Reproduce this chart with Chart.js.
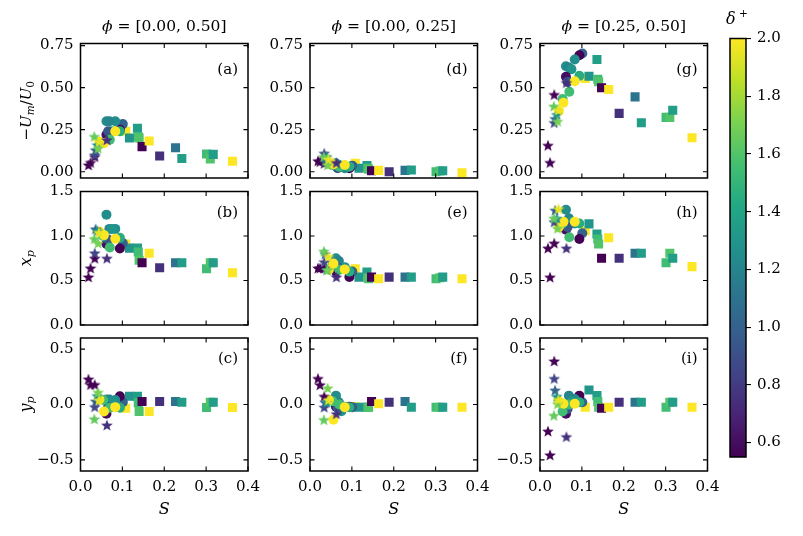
<!DOCTYPE html>
<html>
<head>
<meta charset="utf-8">
<script src="https://cdn.jsdelivr.net/npm/chart.js@4.4.0/dist/chart.umd.min.js"></script>
<style>
  body { margin: 0; background: #fff; }
  #wrap { position: relative; width: 803px; height: 536px; background: #fff; }
  #wrap canvas { position: absolute; left: 0; top: 0; }
</style>
</head>
<body>
<div id="wrap"></div>
<script>
// ---------- data ----------
const phiRanges = ['[0.00, 0.50]', '[0.00, 0.25]', '[0.25, 0.50]'];
const panelLetters = [['(a)', '(b)', '(c)'], ['(d)', '(e)', '(f)'], ['(g)', '(h)', '(i)']];

const sTicks = [0, 0.1, 0.2, 0.3, 0.4];
const sTickLabels = ['0.0', '0.1', '0.2', '0.3', '0.4'];
const umTicks = [0, 0.25, 0.5, 0.75];
const umTickLabels = ['0.00', '0.25', '0.50', '0.75'];
const xpTicks = [0, 0.5, 1.0, 1.5];
const xpTickLabels = ['0.0', '0.5', '1.0', '1.5'];
const ypTicks = [-0.5, 0, 0.5];
const ypTickLabels = ['\u22120.5', '0.0', '0.5'];
const deltaTicks = [0.6, 0.8, 1.0, 1.2, 1.4, 1.6, 1.8, 2.0];
const deltaTickLabels = ['0.6', '0.8', '1.0', '1.2', '1.4', '1.6', '1.8', '2.0'];
const deltaMin = 0.55, deltaMax = 2.0;

// stars (small S)
const starS     = [0.019, 0.024, 0.034, 0.034, 0.036, 0.040, 0.033, 0.042, 0.044, 0.063];
const starDelta = [0.55, 0.55, 0.55, 0.85, 1.0, 1.3, 1.65, 1.7, 1.95, 0.75];
// circles (medium S)
const circS     = [0.101, 0.094, 0.083, 0.062, 0.069, 0.075, 0.094, 0.062, 0.066, 0.070, 0.054, 0.056, 0.083, 0.045];
const circDelta = [1.0, 0.55, 1.25, 1.25, 1.2, 1.3, 1.45, 0.6, 0.95, 1.55, 1.55, 2.0, 2.0, 2.0];
// squares (large S)
const sqS     = [0.108, 0.117, 0.136, 0.138, 0.140, 0.147, 0.164, 0.189, 0.227, 0.242, 0.301, 0.310, 0.317, 0.363];
const sqDelta = [2.0, 1.3, 1.35, 1.55, 1.6, 0.55, 2.0, 0.75, 1.1, 1.35, 1.55, 1.6, 1.35, 2.0];

// -U_m/U_0, one list per phi range
const umStar = [
  [0.04, 0.055, 0.09, 0.10, 0.13, 0.16, 0.21, 0.14, 0.18, 0.19],
  [0.065, 0.06, 0.05, 0.11, 0.06, 0.09, 0.09, 0.04, 0.075, 0.054],
  [0.157, 0.055, 0.459, 0.292, 0.316, 0.34, 0.39, 0.30, 0.367, 0.53]
];
const umCirc = [
  [0.283, 0.25, 0.30, 0.30, 0.30, 0.24, 0.24, 0.22, 0.24, 0.19, 0.17, 0.17, 0.24, 0.178],
  [0.036, 0.02, 0.02, 0.05, 0.04, 0.03, 0.03, 0.035, 0.02, 0.03, 0.04, 0.044, 0.04, 0.05],
  [0.703, 0.693, 0.667, 0.627, 0.62, 0.61, 0.57, 0.564, 0.534, 0.475, 0.432, 0.41, 0.538, 0.36]
];
const umSq = [
  [0.24, 0.20, 0.258, 0.208, 0.20, 0.149, 0.182, 0.093, 0.143, 0.079, 0.105, 0.075, 0.103, 0.062],
  [0.05, 0.02, 0.036, 0.02, 0.015, 0.006, 0.008, 0.0, 0.008, 0.01, 0.0, 0.004, 0.006, -0.006],
  [0.555, 0.568, 0.667, 0.550, 0.535, 0.499, 0.489, 0.347, 0.445, 0.291, 0.323, 0.323, 0.366, 0.202]
];
// x_p
const xpStar = [
  [0.54, 0.64, 0.75, 0.81, 1.08, 1.06, 0.97, 0.92, 1.04, 0.75],
  [0.64, 0.64, 0.64, 0.71, 0.80, 0.62, 0.83, 0.62, 0.77, 0.54],
  [0.864, 0.538, 0.92, 1.16, 1.29, 1.20, 1.20, 1.087, 1.307, 0.864]
];
const xpCirc = [
  [0.92, 0.86, 1.08, 1.24, 1.08, 1.08, 0.98, 0.91, 0.96, 0.87, 1.0, 1.01, 0.97, 1.05],
  [0.60, 0.54, 0.65, 0.75, 0.72, 0.65, 0.60, 0.60, 0.65, 0.62, 0.68, 0.69, 0.625, 0.62],
  [1.03, 0.966, 1.14, 1.295, 1.20, 1.16, 1.14, 1.07, 1.10, 0.985, 1.14, 1.16, 1.16, 1.10]
];
const xpSq = [
  [0.909, 0.864, 0.864, 0.82, 0.727, 0.70, 0.807, 0.644, 0.70, 0.70, 0.633, 0.70, 0.70, 0.587],
  [0.633, 0.538, 0.595, 0.53, 0.52, 0.538, 0.519, 0.538, 0.538, 0.538, 0.519, 0.53, 0.538, 0.519],
  [1.06, 1.136, 1.023, 0.966, 0.909, 0.75, 0.981, 0.75, 0.807, 0.807, 0.70, 0.807, 0.75, 0.656]
];
// y_p
const ypStar = [
  [0.23, 0.18, 0.18, -0.02, 0.03, 0.08, -0.13, 0.11, 0.04, -0.185],
  [0.235, 0.178, 0.074, -0.024, 0.02, 0.02, -0.137, 0.149, 0.042, -0.083],
  [-0.24, -0.455, 0.393, 0.235, 0.13, 0.074, -0.098, 0.006, 0.045, -0.29]
];
const ypCirc = [
  [0.021, 0.074, 0.04, 0.045, 0.045, 0.03, -0.03, -0.083, -0.02, -0.03, 0.04, -0.063, -0.024, 0.045],
  [-0.024, -0.02, -0.02, 0.08, 0.02, -0.06, -0.024, -0.02, -0.03, 0.0, 0.03, -0.137, -0.024, 0.04],
  [0.021, 0.08, 0.05, -0.02, 0.08, 0.03, 0.02, -0.083, -0.04, 0.0, -0.063, 0.006, 0.006, 0.03]
];
const ypSq = [
  [-0.033, 0.074, 0.074, 0.015, -0.063, 0.027, -0.063, 0.027, 0.027, 0.021, -0.027, 0.021, 0.021, -0.027],
  [-0.02, -0.024, -0.024, -0.024, -0.024, 0.027, 0.006, 0.021, 0.027, -0.024, -0.024, -0.024, -0.024, -0.024],
  [-0.024, 0.131, 0.08, 0.027, -0.024, -0.033, -0.024, 0.021, 0.021, 0.021, -0.024, 0.021, 0.021, -0.024]
];

// ---------- layout ----------
const W = 803, H = 536;
const colLeft = [80.5, 310, 540];
const plotW = 167.5;
const FONT = "'DejaVu Serif', 'Liberation Serif', serif";
const FS = 15;

const rows = [
  { top: 43.5, bottom: 178, min: -0.0375, max: 0.7625, ticks: umTicks, labels: umTickLabels, star: umStar, circ: umCirc, sq: umSq },
  { top: 191.5, bottom: 325, min: 0, max: 1.5, ticks: xpTicks, labels: xpTickLabels, star: xpStar, circ: xpCirc, sq: xpSq },
  { top: 338, bottom: 471, min: -0.6, max: 0.6, ticks: ypTicks, labels: ypTickLabels, star: ypStar, circ: ypCirc, sq: ypSq }
];

// viridis
const viridis = ['#440154', '#482475', '#414487', '#355f8d', '#2a788e', '#21918c', '#22a884', '#44bf70', '#7ad151', '#bddf26', '#fde725'];
function hexRgb(h) { return [1, 3, 5].map(i => parseInt(h.substr(i, 2), 16)); }
function colorAt(t) {
  t = Math.max(0, Math.min(1, t)) * 10;
  const i = Math.min(9, Math.floor(t)), f = t - i;
  const a = hexRgb(viridis[i]), b = hexRgb(viridis[i + 1]);
  const c = a.map((v, k) => Math.round(v + (b[k] - v) * f));
  return `rgb(${c[0]},${c[1]},${c[2]})`;
}
function colorFor(d) { return colorAt((d - deltaMin) / (deltaMax - deltaMin)); }

// filled star marker like matplotlib '*'
const starCache = {};
function starImg(color) {
  if (starCache[color]) return starCache[color];
  const c = document.createElement('canvas');
  c.width = 14; c.height = 14;
  const g = c.getContext('2d');
  g.fillStyle = color;
  g.beginPath();
  for (let i = 0; i < 10; i++) {
    const r = i % 2 ? 2.6 : 6.2;
    const a = -Math.PI / 2 + i * Math.PI / 5;
    g.lineTo(7 + r * Math.cos(a), 7.6 + r * Math.sin(a));
  }
  g.closePath();
  g.fill();
  starCache[color] = c;
  return c;
}

// text made of pieces (italic / sub / sup)
function drawPieces(ctx, x, y, pieces) {
  let total = 0;
  pieces.forEach(p => { ctx.font = p.f; total += ctx.measureText(p.t).width; });
  let cx = x - total / 2;
  ctx.textAlign = 'left';
  ctx.textBaseline = 'alphabetic';
  pieces.forEach(p => {
    ctx.font = p.f;
    ctx.fillText(p.t, cx, y + (p.dy || 0));
    cx += ctx.measureText(p.t).width;
  });
}
const it = (s) => `italic ${s}px ${FONT}`;
const up = (s) => `${s}px ${FONT}`;

const yTitles = [
  [{ t: '\u2212', f: up(15) }, { t: 'U', f: it(15) }, { t: 'm', f: it(10.5), dy: 3 }, { t: '/', f: up(15) }, { t: 'U', f: it(15) }, { t: '0', f: up(10.5), dy: 3 }],
  [{ t: 'x', f: it(16) }, { t: 'p', f: it(11), dy: 3 }],
  [{ t: 'y', f: it(16) }, { t: 'p', f: it(11), dy: 3 }]
];

const panelPlugin = {
  id: 'panel',
  afterDraw(chart, args, o) {
    const { ctx, chartArea: a, scales: { x, y } } = chart;
    ctx.save();
    ctx.strokeStyle = '#000';
    ctx.fillStyle = '#000';
    ctx.lineWidth = 1.1;
    ctx.beginPath();
    sTicks.forEach(v => {
      const px = x.getPixelForValue(v);
      ctx.moveTo(px, a.bottom); ctx.lineTo(px, a.bottom - 4.5);
      ctx.moveTo(px, a.top); ctx.lineTo(px, a.top + 4.5);
    });
    o.yTicks.forEach(v => {
      const py = y.getPixelForValue(v);
      ctx.moveTo(a.left, py); ctx.lineTo(a.left + 4.5, py);
      ctx.moveTo(a.right, py); ctx.lineTo(a.right - 4.5, py);
    });
    ctx.stroke();
    ctx.lineWidth = 1.5;
    ctx.strokeRect(a.left, a.top, a.right - a.left, a.bottom - a.top);

    // panel letter
    ctx.font = up(15);
    ctx.textAlign = 'right';
    ctx.textBaseline = 'middle';
    ctx.fillText(o.letter, a.right - 10, a.top + o.letterDy);

    const cx = (a.left + a.right) / 2;
    if (o.title) {
      drawPieces(ctx, cx, 31, [{ t: '\u03d5', f: it(15.5) }, { t: ' = ', f: up(15.5) }, { t: o.title, f: up(15.5) }]);
    }
    if (o.xTitle) {
      drawPieces(ctx, cx, 514, [{ t: 'S', f: it(16) }]);
    }
    if (o.yTitle) {
      ctx.translate(31, (a.top + a.bottom) / 2);
      ctx.rotate(-Math.PI / 2);
      drawPieces(ctx, 0, 0, o.yTitle);
    }
    ctx.restore();
  }
};

const wrap = document.getElementById('wrap');
function newCanvas() {
  const cv = document.createElement('canvas');
  cv.width = W; cv.height = H;
  cv.style.width = W + 'px'; cv.style.height = H + 'px';
  wrap.appendChild(cv);
  return cv;
}

function makePanel(ci, ri) {
  const row = rows[ri];
  const L = colLeft[ci], R = L + plotW;
  const bottomRow = ri === 2;
  const xH = bottomRow ? 30 : 0;
  const yW = 50;
  const set = (S, D, V, style, r) => ({
    data: S.map((s, i) => ({ x: s, y: V[ci][i] })),
    pointBackgroundColor: D.map(colorFor),
    pointBorderWidth: 0,
    pointRadius: r,
    pointHoverRadius: r,
    pointStyle: style
  });
  new Chart(newCanvas(), {
    type: 'scatter',
    data: {
      datasets: [
        set(starS, starDelta, row.star, starDelta.map(d => starImg(colorFor(d))), 6),
        set(circS, circDelta, row.circ, 'circle', 5),
        set(sqS, sqDelta, row.sq, 'rect', 6.4)
      ]
    },
    options: {
      responsive: false,
      animation: false,
      devicePixelRatio: 1,
      events: [],
      layout: { padding: { left: L - yW, right: W - R, top: row.top, bottom: H - row.bottom - xH } },
      plugins: {
        legend: { display: false },
        tooltip: { enabled: false },
        panel: {
          yTicks: row.ticks,
          letter: panelLetters[ci][ri],
          letterDy: ri === 0 ? 26.5 : 21.5,
          title: ri === 0 ? phiRanges[ci] : null,
          xTitle: bottomRow,
          yTitle: ci === 0 ? yTitles[ri] : null
        }
      },
      scales: {
        x: {
          type: 'linear', min: 0, max: 0.4,
          afterBuildTicks: s => { s.ticks = sTicks.map(v => ({ value: v })); },
          afterFit: s => { s.height = xH; },
          grid: { display: false, drawTicks: false },
          border: { display: false },
          ticks: {
            display: bottomRow, autoSkip: false, maxRotation: 0, padding: 7,
            color: '#000', font: { family: FONT, size: FS },
            callback: (v, i) => sTickLabels[i]
          }
        },
        y: {
          type: 'linear', min: row.min, max: row.max,
          afterBuildTicks: s => { s.ticks = row.ticks.map(v => ({ value: v })); },
          afterFit: s => { s.width = yW; },
          grid: { display: false, drawTicks: false },
          border: { display: false },
          ticks: {
            autoSkip: false, padding: 7,
            color: '#000', font: { family: FONT, size: FS },
            callback: (v, i) => row.labels[i]
          }
        }
      }
    },
    plugins: [panelPlugin]
  });
}

for (let ci = 0; ci < 3; ci++) for (let ri = 0; ri < 3; ri++) makePanel(ci, ri);

// ---------- colorbar ----------
const cbLeft = 730, cbRight = 746, cbTop = 38.5, cbBottom = 457;
const colorbarPlugin = {
  id: 'cbar',
  beforeDraw(chart) {
    const { ctx, chartArea: a, scales: { y } } = chart;
    const g = ctx.createLinearGradient(0, y.getPixelForValue(deltaMin), 0, y.getPixelForValue(deltaMax));
    viridis.forEach((c, i) => g.addColorStop(i / 10, c));
    ctx.save();
    ctx.fillStyle = g;
    ctx.fillRect(a.left, a.top, a.right - a.left, a.bottom - a.top);
    ctx.restore();
  },
  afterDraw(chart) {
    const { ctx, chartArea: a } = chart;
    ctx.save();
    ctx.strokeStyle = '#000';
    ctx.lineWidth = 1.5;
    ctx.strokeRect(a.left, a.top, a.right - a.left, a.bottom - a.top);
    ctx.fillStyle = '#000';
    drawPieces(ctx, 737, 24, [{ t: '\u03b4', f: it(16) }, { t: ' +', f: up(10.5), dy: -7 }]);
    ctx.restore();
  }
};
new Chart(newCanvas(), {
  type: 'scatter',
  data: { datasets: [] },
  options: {
    responsive: false,
    animation: false,
    devicePixelRatio: 1,
    events: [],
    layout: { padding: { left: cbLeft, right: W - cbRight - 45, top: cbTop, bottom: H - cbBottom } },
    plugins: { legend: { display: false }, tooltip: { enabled: false } },
    scales: {
      x: { type: 'linear', display: false, min: 0, max: 1 },
      y: {
        type: 'linear', position: 'right', min: deltaMin, max: deltaMax,
        afterBuildTicks: s => { s.ticks = deltaTicks.map(v => ({ value: v })); },
        afterFit: s => { s.width = 45; },
        grid: { display: true, drawOnChartArea: false, drawTicks: true, tickLength: 5, color: '#000', lineWidth: 1.1 },
        border: { display: false },
        ticks: {
          autoSkip: false, padding: 6,
          color: '#000', font: { family: FONT, size: FS },
          callback: (v, i) => deltaTickLabels[i]
        }
      }
    }
  },
  plugins: [colorbarPlugin]
});
</script>
</body>
</html>
